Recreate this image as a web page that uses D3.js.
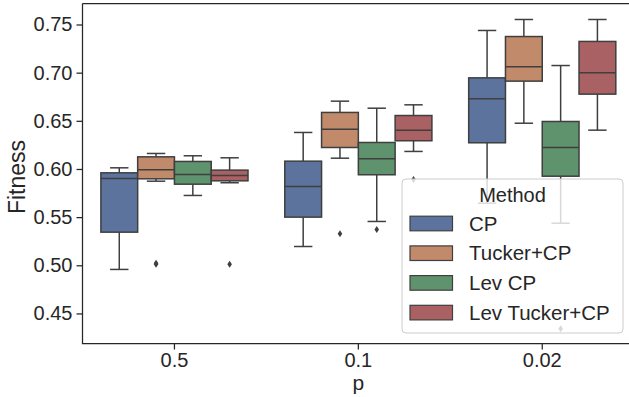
<!DOCTYPE html>
<html>
<head>
<meta charset="utf-8">
<script src="https://cdn.jsdelivr.net/npm/d3@7"></script>
<style>
  body { margin: 0; background: #fff; }
  text { font-family: "Liberation Sans", Arial, sans-serif; fill: #262626; }
</style>
</head>
<body>
<div id="chart"></div>
<script>
// x categories (p) and hue levels
var categories = ["0.5", "0.1", "0.02"];
var methods = ["CP", "Tucker+CP", "Lev CP", "Lev Tucker+CP"];
var colors = ["#5c739e", "#c08a6b", "#5f936d", "#aa6164"];

// box stats per method, one entry per category: [whislo, q1, median, q3, whishi]
var cpStats        = [[0.4957, 0.5344, 0.5900, 0.5960, 0.6012], [0.5195, 0.5500, 0.5818, 0.6081, 0.6379], [0.5645, 0.6272, 0.6729, 0.6946, 0.7438]];
var tuckerStats    = [[0.5873, 0.5898, 0.5991, 0.6126, 0.6161], [0.6112, 0.6223, 0.6413, 0.6587, 0.6704], [0.6475, 0.6912, 0.7061, 0.7375, 0.7552]];
var levCpStats     = [[0.5725, 0.5842, 0.5943, 0.6078, 0.6137], [0.5455, 0.5940, 0.6106, 0.6275, 0.6631], [0.5437, 0.5925, 0.6223, 0.6493, 0.7074]];
var levTuckerStats = [[0.5857, 0.5877, 0.5932, 0.5988, 0.6116], [0.6182, 0.6293, 0.6403, 0.6555, 0.6666], [0.6403, 0.6777, 0.6998, 0.7324, 0.7552]];

// outliers per method, one list per category
var cpOutliers        = [[], [], []];
var tuckerOutliers    = [[0.5012, 0.5020], [0.5327], []];
var levCpOutliers     = [[], [0.5372], [0.4341]];
var levTuckerOutliers = [[0.5012], [0.5890], []];

var yTicks = [0.45, 0.50, 0.55, 0.60, 0.65, 0.70, 0.75];

var allStats = [cpStats, tuckerStats, levCpStats, levTuckerStats];
var allOutliers = [cpOutliers, tuckerOutliers, levCpOutliers, levTuckerOutliers];

var width = 629, height = 397;
var plotLeft = 82.5, plotTop = 3.5, plotBottom = 343.5;
var step = 183.9;

var svg = d3.select("#chart")
  .append("svg")
  .attr("width", width)
  .attr("height", height);

var x = d3.scaleBand()
  .domain(categories)
  .range([plotLeft, plotLeft + step * categories.length])
  .padding(0);

var hue = d3.scaleBand()
  .domain(methods)
  .range([0, x.bandwidth() * 0.8])
  .padding(0);

var y = d3.scaleLinear()
  .domain([0.4188, 0.7718])
  .range([plotBottom, plotTop]);

var lineColor = "#3f3f3f";

// boxes
methods.forEach(function(m, mi) {
  var g = svg.append("g");
  categories.forEach(function(c, ci) {
    var s = allStats[mi][ci];
    var x0 = x(c) + x.bandwidth() * 0.1 + hue(m);
    var w = hue.bandwidth();
    var cx = x0 + w / 2;

    // whiskers
    g.append("line").attr("x1", cx).attr("x2", cx).attr("y1", y(s[3])).attr("y2", y(s[4]))
      .attr("stroke", lineColor).attr("stroke-width", 1.5);
    g.append("line").attr("x1", cx).attr("x2", cx).attr("y1", y(s[1])).attr("y2", y(s[0]))
      .attr("stroke", lineColor).attr("stroke-width", 1.5);
    // caps
    [s[0], s[4]].forEach(function(v) {
      g.append("line").attr("x1", cx - w / 4).attr("x2", cx + w / 4).attr("y1", y(v)).attr("y2", y(v))
        .attr("stroke", lineColor).attr("stroke-width", 1.5);
    });
    // box
    g.append("rect")
      .attr("x", x0).attr("width", w)
      .attr("y", y(s[3])).attr("height", y(s[1]) - y(s[3]))
      .attr("fill", colors[mi])
      .attr("stroke", lineColor).attr("stroke-width", 1.5);
    // median
    g.append("line").attr("x1", x0).attr("x2", x0 + w).attr("y1", y(s[2])).attr("y2", y(s[2]))
      .attr("stroke", lineColor).attr("stroke-width", 1.5);
    // outliers
    allOutliers[mi][ci].forEach(function(v) {
      var py = y(v);
      g.append("path")
        .attr("d", "M" + cx + "," + (py - 3.5) + "L" + (cx + 2.3) + "," + py + "L" + cx + "," + (py + 3.5) + "L" + (cx - 2.3) + "," + py + "Z")
        .attr("fill", lineColor);
    });
  });
});

// axes
var yAxis = svg.append("g")
  .attr("transform", "translate(" + plotLeft + ",0)")
  .call(d3.axisLeft(y).tickValues(yTicks).tickFormat(d3.format(".2f")).tickSizeOuter(0).tickSize(6).tickPadding(4));
yAxis.select(".domain").remove();
yAxis.selectAll("text").style("font-size", "20px").attr("fill", "#262626");
yAxis.selectAll("line").attr("stroke", "#262626").attr("stroke-width", 1.25);

var xAxis = svg.append("g")
  .attr("transform", "translate(0," + plotBottom + ")")
  .call(d3.axisBottom(x).tickSizeOuter(0).tickSize(6).tickPadding(3));
xAxis.select(".domain").remove();
xAxis.selectAll("text").style("font-size", "20px").attr("fill", "#262626");
xAxis.selectAll("line").attr("stroke", "#262626").attr("stroke-width", 1.25);

// spines (right one falls outside the picture)
svg.append("path")
  .attr("d", "M" + plotLeft + "," + plotTop + "V" + plotBottom + "H" + width)
  .attr("fill", "none").attr("stroke", "#262626").attr("stroke-width", 1.25);
svg.append("line")
  .attr("x1", plotLeft).attr("x2", width).attr("y1", plotTop).attr("y2", plotTop)
  .attr("stroke", "#262626").attr("stroke-width", 1.25);

// axis labels
svg.append("text")
  .attr("x", x("0.1") + x.bandwidth() / 2).attr("y", 390)
  .attr("text-anchor", "middle")
  .style("font-size", "21px")
  .text("p");
svg.append("text")
  .attr("transform", "translate(25,177) rotate(-90)")
  .attr("text-anchor", "middle")
  .style("font-size", "23px")
  .text("Fitness");

// legend
var legend = svg.append("g");
legend.append("rect")
  .attr("x", 402).attr("y", 179).attr("width", 221).attr("height", 154)
  .attr("rx", 4)
  .attr("fill", "#fff").attr("fill-opacity", 0.8)
  .attr("stroke", "#cccccc").attr("stroke-width", 1);
legend.append("text")
  .attr("x", 512.5).attr("y", 202)
  .attr("text-anchor", "middle")
  .style("font-size", "20px")
  .text("Method");
methods.forEach(function(m, i) {
  var cy = 223.5 + i * 29.7;
  legend.append("rect")
    .attr("x", 410).attr("y", cy - 7.3).attr("width", 42.5).attr("height", 14.6)
    .attr("fill", colors[i]).attr("stroke", lineColor).attr("stroke-width", 1.2);
  legend.append("text")
    .attr("x", 469).attr("y", cy + 7)
    .style("font-size", "20.5px")
    .text(m);
});
</script>
</body>
</html>
